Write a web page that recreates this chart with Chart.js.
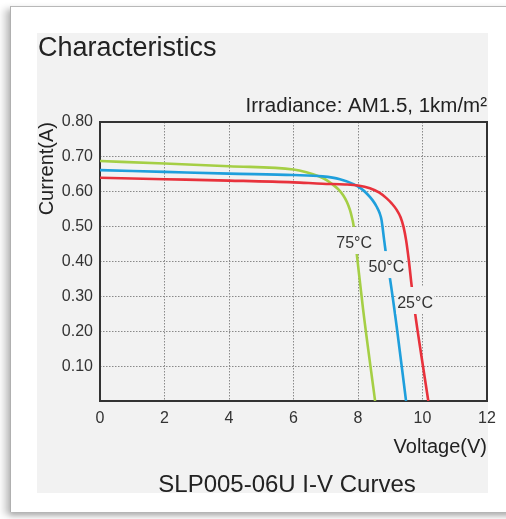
<!DOCTYPE html>
<html>
<head>
<meta charset="utf-8">
<script src="https://cdn.jsdelivr.net/npm/chart.js@4/dist/chart.umd.min.js"></script>
<style>
  html, body { margin: 0; padding: 0; background: #ffffff; width: 506px; height: 519px; overflow: hidden; }
  #frame { position: absolute; left: 10px; top: 6px; width: 520px; height: 505px; background: #ffffff;
           border-top: 1px solid #b8b8b8; border-left: 1px solid #b0b0b0;
           box-shadow: -6px 3px 7px rgba(0,0,0,0.2), 0 4px 5px rgba(0,0,0,0.18); }
  #panel { position: absolute; left: 37px; top: 33px; width: 451px; height: 460px; background: #f2f2f2; }
  #c { position: absolute; left: 0; top: 0; }
</style>
</head>
<body>
<div id="frame"></div>
<div id="panel"></div>
<canvas id="c" width="506" height="519"></canvas>
<script>
// ---- data ----
const xTicks = [0, 2, 4, 6, 8, 10, 12];
const yTicks = [0, 0.1, 0.2, 0.3, 0.4, 0.5, 0.6, 0.7, 0.8];
const yTickLabels = ['', '0.10', '0.20', '0.30', '0.40', '0.50', '0.60', '0.70', '0.80'];

const seriesNames = ['25°C', '50°C', '75°C'];

const v25 = [0, 2, 4, 6, 6.9, 7.6, 8.0, 8.37, 8.65, 8.89, 9.05, 9.2, 9.32, 9.41, 9.49, 9.58, 9.66, 9.77, 9.97, 10.18];
const i25 = [0.640, 0.636, 0.632, 0.627, 0.623, 0.621, 0.618, 0.610, 0.598, 0.581, 0.566, 0.548, 0.527, 0.500, 0.462, 0.400, 0.333, 0.252, 0.127, 0];

const v50 = [0, 2, 4, 6, 6.9, 7.44, 7.86, 8.1, 8.27, 8.45, 8.58, 8.67, 8.73, 8.81, 8.9, 8.99, 9.2, 9.49];
const i50 = [0.662, 0.657, 0.652, 0.648, 0.644, 0.636, 0.622, 0.609, 0.595, 0.576, 0.557, 0.539, 0.519, 0.462, 0.400, 0.352, 0.213, 0];

const v75 = [0, 2, 4, 6, 6.4, 6.82, 7.05, 7.24, 7.4, 7.54, 7.66, 7.75, 7.81, 7.86, 7.96, 8.16, 8.53];
const i75 = [0.688, 0.681, 0.673, 0.664, 0.656, 0.643, 0.632, 0.619, 0.606, 0.590, 0.570, 0.548, 0.527, 0.505, 0.423, 0.261, 0];

// temperature label anchor points (V, I)
const labelV = [9.77, 8.88, 7.88];
const labelI = [0.281, 0.384, 0.453];

const colors = ['#e8323c', '#1f9fdc', '#a5cf45'];
const PANEL = '#f2f2f2';
const FONT = "'Liberation Sans', Arial, Helvetica, sans-serif";

function pts(v, i) { return v.map((x, k) => ({ x: x, y: i[k] })); }

const textPlugin = {
  id: 'texts',
  beforeDatasetsDraw(chart) {
    const ctx = chart.ctx, a = chart.chartArea;
    ctx.save();
    ctx.strokeStyle = '#333333';
    ctx.lineWidth = 2;
    ctx.strokeRect(a.left, a.top, a.right - a.left, a.bottom - a.top);
    ctx.restore();
  },
  afterDatasetsDraw(chart) {
    const ctx = chart.ctx, xs = chart.scales.x, ys = chart.scales.y;
    ctx.save();
    ctx.font = '16px ' + FONT;
    ctx.textAlign = 'center';
    ctx.textBaseline = 'middle';
    seriesNames.forEach((name, k) => {
      const px = xs.getPixelForValue(labelV[k]);
      const py = ys.getPixelForValue(labelI[k]);
      const w = ctx.measureText(name).width;
      ctx.fillStyle = PANEL;
      ctx.fillRect(px - w / 2 - 1, py - 16, w + 2, 27);
      ctx.fillStyle = '#333333';
      ctx.fillText(name, px, py + 1);
    });
    ctx.restore();
  },
  afterDraw(chart) {
    const ctx = chart.ctx;
    ctx.save();
    ctx.fillStyle = '#222222';
    ctx.textBaseline = 'alphabetic';
    ctx.font = '27px ' + FONT;
    ctx.textAlign = 'left';
    ctx.fillText('Characteristics', 38, 56);
    ctx.font = '20.5px ' + FONT;
    ctx.textAlign = 'right';
    ctx.fillText('Irradiance: AM1.5, 1km/m²', 487, 112);
    ctx.font = '24px ' + FONT;
    ctx.textAlign = 'center';
    ctx.fillText('SLP005-06U I-V Curves', 287, 492);
    ctx.restore();
  }
};

new Chart(document.getElementById('c'), {
  type: 'line',
  data: {
    datasets: [
      { label: seriesNames[0], data: pts(v25, i25), borderColor: colors[0] },
      { label: seriesNames[1], data: pts(v50, i50), borderColor: colors[1] },
      { label: seriesNames[2], data: pts(v75, i75), borderColor: colors[2] }
    ].map(d => Object.assign(d, { borderWidth: 2.6, pointRadius: 0, fill: false, cubicInterpolationMode: 'monotone' }))
  },
  options: {
    responsive: false,
    devicePixelRatio: 1,
    animation: false,
    layout: { padding: { left: 37, top: 122, right: 19, bottom: 58 } },
    plugins: { legend: { display: false }, title: { display: false }, tooltip: { enabled: false } },
    scales: {
      x: {
        type: 'linear', min: 0, max: 12,
        afterBuildTicks: s => { s.ticks = xTicks.map(v => ({ value: v })); },
        afterFit: s => { s.height = 60; },
        ticks: { padding: 8, color: '#333333', font: { family: FONT, size: 16 }, maxRotation: 0,
                 callback: v => String(v) },
        grid: { drawTicks: false, color: '#8a8a8a', lineWidth: 1 },
        border: { display: false, dash: [1.5, 1.5] },
        title: { display: true, text: 'Voltage(V)', align: 'end', color: '#222222',
                 font: { family: FONT, size: 20, lineHeight: 1.2 }, padding: { top: 0, bottom: 2 } }
      },
      y: {
        type: 'linear', min: 0, max: 0.8,
        afterBuildTicks: s => { s.ticks = yTicks.map(v => ({ value: v })); },
        afterFit: s => { s.width = 63; },
        ticks: { padding: 7, color: '#333333', font: { family: FONT, size: 16 },
                 callback: (v) => { const k = yTicks.findIndex(t => Math.abs(t - v) < 1e-9); return k >= 0 ? yTickLabels[k] : ''; } },
        grid: { drawTicks: false, color: '#8a8a8a', lineWidth: 1 },
        border: { display: false, dash: [1.5, 1.5] },
        title: { display: true, text: 'Current(A)', align: 'end', color: '#222222',
                 font: { family: FONT, size: 20, lineHeight: 1 }, padding: { top: 0, bottom: 0 } }
      }
    }
  },
  plugins: [textPlugin]
});
</script>
</body>
</html>
